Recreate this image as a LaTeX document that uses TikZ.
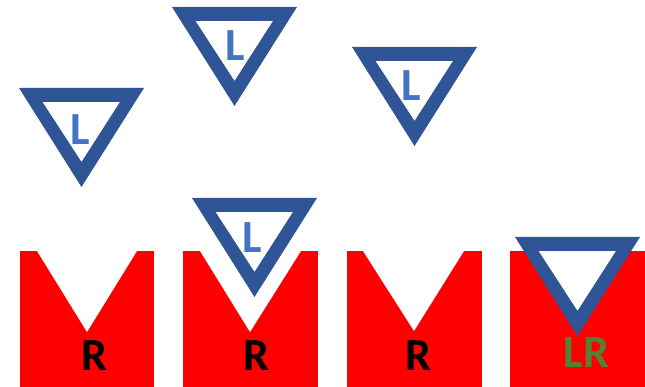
\documentclass[tikz,border=0pt]{standalone}
\usepackage{fontspec}
\setmainfont{Carlito}
\definecolor{tridark}{HTML}{2F5597}
\definecolor{letblue}{HTML}{4472C4}
\definecolor{sqred}{HTML}{FF0000}
\definecolor{letgreen}{HTML}{548235}
\begin{document}
\begin{tikzpicture}[x=1pt,y=-1pt,
  sq/.style={fill=sqred},
  notch/.style={fill=white},
  tri/.style={fill=tridark,even odd rule},
  lab/.style={anchor=base,inner sep=0pt,font=\fontsize{46}{46}\selectfont\bfseries},
  yieldtri/.pic={\path[tri] (0,0) -- (125,0) -- (62.5,99) -- cycle (23.5,14) -- (101,14) -- (62.5,74) -- cycle;}]
\useasboundingbox (0,0) rectangle (645,387);
% red squares with white notches
\foreach \x/\w in {20/134,183/135,347/135,510/135}{
  \fill[sq] (\x,251) rectangle ++(\w,136);
}
\fill[notch] (37,251) -- (137,251) -- (87,332) -- cycle;
\fill[notch] (200,251) -- (301,251) -- (250,332) -- cycle;
\fill[notch] (363,251) -- (464,251) -- (414,331) -- cycle;
\fill[notch] (527,251) -- (627,251) -- (577,332) -- cycle;
% blue triangles
\pic at (19,88) {yieldtri};
\pic at (172,7) {yieldtri};
\pic at (352,47) {yieldtri};
\pic at (192,198) {yieldtri};
\pic at (515,237) {yieldtri};
% letters
\node[lab,text=letblue] (l1) at (80.5,145) {L};
\node[lab,text=letblue] (l2) at (235,61) {L};
\node[lab,text=letblue] (l3) at (411.5,101) {L};
\node[lab,text=letblue] (l4) at (252.5,253) {L};
\node[lab] (r1) at (94,370) {R};
\node[lab] (r2) at (256.5,370) {R};
\node[lab] (r3) at (418,370) {R};
\node[lab,text=letgreen] (lr) at (586.5,367) {LR};
\end{tikzpicture}
\end{document}
